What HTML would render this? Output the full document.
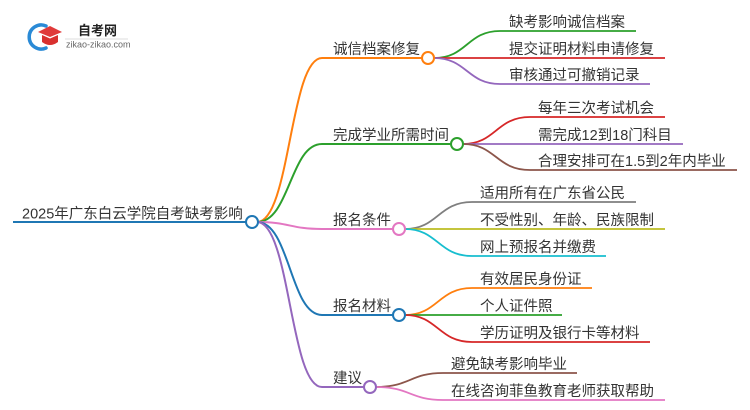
<!DOCTYPE html>
<html>
<head>
<meta charset="utf-8">
<style>
html,body{margin:0;padding:0;background:#fff;}
body{width:750px;height:410px;overflow:hidden;}
svg{display:block;}
text{font-family:"Liberation Sans","Noto Sans CJK SC",sans-serif;font-size:14.5px;fill:#333;}
</style>
</head>
<body>
<svg width="750" height="410" viewBox="0 0 750 410" xmlns="http://www.w3.org/2000/svg">
  <!-- logo -->
  <path d="M46 26 A12 12 0 1 0 46 48" fill="none" stroke="#2a8ad6" stroke-width="3.5" stroke-linecap="round"/>
  <path d="M38 32 L50 26 L62 32 L50 37 Z" fill="#e03a3a"/>
  <path d="M42 35 L50 38.5 L58 35 L58 42 Q50 48 42 42 Z" fill="#d8302f"/>
  <text x="78" y="35" style="font-size:13px;font-weight:bold;fill:#222;">自考网</text>
  <line x1="65" y1="39" x2="128" y2="39" stroke="#ddd" stroke-width="1"/>
  <text x="66" y="47.5" style="font-size:9px;fill:#666;">zikao-zikao.com</text>

  <g fill="none" stroke-width="2">
    <!-- root -->
    <line x1="13" y1="222" x2="246" y2="222" stroke="#1f77b4"/>
    <!-- branches -->
    <path d="M257 222 C290 222 290 58 322 58 L422 58" stroke="#ff7f0e"/>
    <path d="M257 222 C290 222 290 144 322 144 L451 144" stroke="#2ca02c"/>
    <path d="M257 222 C290 222 290 229 322 229 L393 229" stroke="#e377c2"/>
    <path d="M257 222 C290 222 290 315 322 315 L393 315" stroke="#1f77b4"/>
    <path d="M257 222 C290 222 290 387 322 387 L364 387" stroke="#9467bd"/>
  </g>
  <g fill="none" stroke-width="1.8">
    <!-- branch 1 children -->
    <path d="M434 58 C467 58 467 31 500 31 L636 31" stroke="#2ca02c"/>
    <path d="M434 58 L665 58" stroke="#d62728"/>
    <path d="M434 58 C467 58 467 84 500 84 L650 84" stroke="#9467bd"/>
    <!-- branch 2 children -->
    <path d="M463 144 C496 144 496 117 530 117 L665 117" stroke="#d62728"/>
    <path d="M463 144 L683 144" stroke="#9467bd"/>
    <path d="M463 144 C496 144 496 170 530 170 L737 170" stroke="#8c564b"/>
    <!-- branch 3 children -->
    <path d="M405 229 C438 229 438 202 472 202 L636 202" stroke="#7f7f7f"/>
    <path d="M405 229 L665 229" stroke="#bcbd22"/>
    <path d="M405 229 C438 229 438 256 472 256 L606 256" stroke="#17becf"/>
    <!-- branch 4 children -->
    <path d="M405 315 C438 315 438 288 472 288 L592 288" stroke="#ff7f0e"/>
    <path d="M405 315 L562 315" stroke="#2ca02c"/>
    <path d="M405 315 C438 315 438 342 472 342 L650 342" stroke="#d62728"/>
    <!-- branch 5 children -->
    <path d="M376 387 C410 387 410 373 443 373 L577 373" stroke="#8c564b"/>
    <path d="M376 387 C410 387 410 400 443 400 L665 400" stroke="#e377c2"/>
  </g>
  <!-- circles -->
  <g fill="#fff" stroke-width="2">
    <circle cx="252" cy="222" r="6" stroke="#1f77b4"/>
    <circle cx="428" cy="58" r="6" stroke="#ff7f0e"/>
    <circle cx="457" cy="144" r="6" stroke="#2ca02c"/>
    <circle cx="399" cy="229" r="6" stroke="#e377c2"/>
    <circle cx="399" cy="315" r="6" stroke="#1f77b4"/>
    <circle cx="370" cy="387" r="6" stroke="#9467bd"/>
  </g>

  <!-- texts -->
  <text x="22" y="218.5">2025年广东白云学院自考缺考影响</text>

  <text x="333" y="54">诚信档案修复</text>
  <text x="333" y="140">完成学业所需时间</text>
  <text x="333" y="225">报名条件</text>
  <text x="333" y="311">报名材料</text>
  <text x="333" y="383">建议</text>

  <text x="509" y="27">缺考影响诚信档案</text>
  <text x="509" y="54">提交证明材料申请修复</text>
  <text x="509" y="80">审核通过可撤销记录</text>

  <text x="538" y="113">每年三次考试机会</text>
  <text x="538" y="140">需完成12到18门科目</text>
  <text x="538" y="166">合理安排可在1.5到2年内毕业</text>

  <text x="480" y="198">适用所有在广东省公民</text>
  <text x="480" y="225">不受性别、年龄、民族限制</text>
  <text x="480" y="252">网上预报名并缴费</text>

  <text x="480" y="284">有效居民身份证</text>
  <text x="480" y="311">个人证件照</text>
  <text x="480" y="338">学历证明及银行卡等材料</text>

  <text x="451" y="369">避免缺考影响毕业</text>
  <text x="451" y="396">在线咨询菲鱼教育老师获取帮助</text>
</svg>
</body>
</html>
